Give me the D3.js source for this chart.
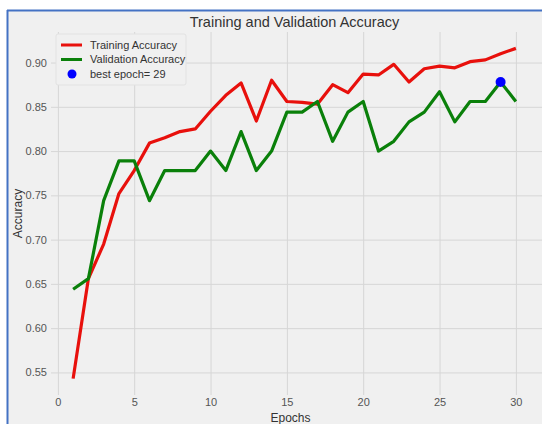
<!DOCTYPE html>
<html>
<head>
<meta charset="utf-8">
<script src="https://cdn.jsdelivr.net/npm/d3@7"></script>
<style>
  body { margin: 0; background: #fff; }
  svg { display: block; font-family: "Liberation Sans", Arial, sans-serif; }
</style>
</head>
<body>
<div id="chart"></div>
<script>
/* DATA */
const epochs = d3.range(1, 31);
const trainAcc = [0.543, 0.656, 0.695, 0.752, 0.778, 0.809, 0.815, 0.822, 0.825, 0.845,
  0.863, 0.877, 0.834, 0.880, 0.856, 0.855, 0.853, 0.875, 0.866, 0.887,
  0.886, 0.898, 0.878, 0.893, 0.896, 0.894, 0.901, 0.903, 0.910, 0.916];
const valAcc = [0.644, 0.656, 0.744, 0.789, 0.789, 0.744, 0.778, 0.778, 0.778, 0.800,
  0.778, 0.822, 0.778, 0.800, 0.844, 0.844, 0.856, 0.811, 0.844, 0.856,
  0.800, 0.811, 0.833, 0.844, 0.867, 0.833, 0.856, 0.856, 0.878, 0.856];
const bestEpoch = 29;
const xTicks = [0, 5, 10, 15, 20, 25, 30];
const yTicks = [0.55, 0.60, 0.65, 0.70, 0.75, 0.80, 0.85, 0.90];
const legendLabels = ['Training Accuracy', 'Validation Accuracy', 'best epoch= ' + bestEpoch];

/* CONSTANTS */
const W = 542, H = 424;
const plot = { left: 51, right: 538, top: 32, bottom: 395 };

const svg = d3.select('#chart')
  .append('svg')
  .attr('width', W)
  .attr('height', H);

// figure background with blue frame on top/left
svg.append('rect').attr('x', 7).attr('y', 10).attr('width', W - 7).attr('height', H - 10).attr('fill', '#f0f0f0');
svg.append('line').attr('x1', 7).attr('x2', W).attr('y1', 10.5).attr('y2', 10.5)
  .attr('stroke', '#4472c4').attr('stroke-width', 2);
svg.append('line').attr('x1', 7.5).attr('x2', 7.5).attr('y1', 10).attr('y2', H)
  .attr('stroke', '#4472c4').attr('stroke-width', 2);

const x = d3.scaleLinear().domain([-0.45, 31.45]).range([plot.left, plot.right]);
const y = d3.scaleLinear().domain([0.5245, 0.9345]).range([plot.bottom, plot.top]);

// grid
svg.append('g')
  .attr('transform', `translate(0,${plot.bottom})`)
  .call(d3.axisBottom(x).tickValues(xTicks).tickSize(-(plot.bottom - plot.top)).tickFormat(d => d).tickPadding(3))
  .call(g => g.select('.domain').remove())
  .call(g => g.selectAll('.tick line').attr('stroke', '#d6d6d6').attr('stroke-width', 1))
  .call(g => g.selectAll('.tick text').attr('fill', '#555').attr('font-size', 11));

svg.append('g')
  .attr('transform', `translate(${plot.left},0)`)
  .call(d3.axisLeft(y).tickValues(yTicks).tickSize(-(W - plot.left)).tickFormat(d3.format('.2f')).tickPadding(4))
  .call(g => g.select('.domain').remove())
  .call(g => g.selectAll('.tick line').attr('stroke', '#d6d6d6').attr('stroke-width', 1))
  .call(g => g.selectAll('.tick text').attr('fill', '#555').attr('font-size', 11));

// lines
const line = d3.line().x((d, i) => x(epochs[i])).y(d => y(d));

svg.append('path')
  .datum(trainAcc)
  .attr('d', line)
  .attr('fill', 'none')
  .attr('stroke', '#e8100c')
  .attr('stroke-width', 3.2)
  .attr('stroke-linejoin', 'round');

svg.append('path')
  .datum(valAcc)
  .attr('d', line)
  .attr('fill', 'none')
  .attr('stroke', '#0a800a')
  .attr('stroke-width', 3.2)
  .attr('stroke-linejoin', 'round');

svg.append('circle')
  .attr('cx', x(bestEpoch))
  .attr('cy', y(valAcc[bestEpoch - 1]))
  .attr('r', 5)
  .attr('fill', '#0000ff');

// titles
svg.append('text')
  .attr('x', (plot.left + plot.right) / 2)
  .attr('y', 27)
  .attr('text-anchor', 'middle')
  .attr('font-size', 14.5)
  .attr('fill', '#333')
  .text('Training and Validation Accuracy');

svg.append('text')
  .attr('x', (plot.left + plot.right) / 2 - 4)
  .attr('y', 422)
  .attr('text-anchor', 'middle')
  .attr('font-size', 12)
  .attr('fill', '#333')
  .text('Epochs');

svg.append('text')
  .attr('transform', `translate(22,${(plot.top + plot.bottom) / 2}) rotate(-90)`)
  .attr('text-anchor', 'middle')
  .attr('font-size', 12)
  .attr('fill', '#333')
  .text('Accuracy');

// Legend
const legend = svg.append('g').attr('transform', 'translate(56,34)');
legend.append('rect')
  .attr('width', 130)
  .attr('height', 51)
  .attr('rx', 2)
  .attr('fill', '#f0f0f0')
  .attr('stroke', '#e2e2e2');

const colors = ['#e8100c', '#0a800a', '#0000ff'];
const item = legend.selectAll('.legend')
  .data(legendLabels)
  .enter()
  .append('g')
  .attr('class', 'legend')
  .attr('transform', (d, i) => `translate(0, ${11 + i * 14.5})`);

item.filter((d, i) => i < 2).append('line')
  .attr('x1', 5).attr('x2', 26)
  .attr('stroke', (d, i) => colors[i])
  .attr('stroke-width', 3);

item.filter((d, i) => i === 2).append('circle')
  .attr('cx', 16).attr('r', 4.5)
  .attr('fill', colors[2]);

item.append('text')
  .attr('x', 34)
  .attr('dy', '.35em')
  .attr('font-size', 11)
  .attr('fill', '#333')
  .text(d => d);
</script>
</body>
</html>
